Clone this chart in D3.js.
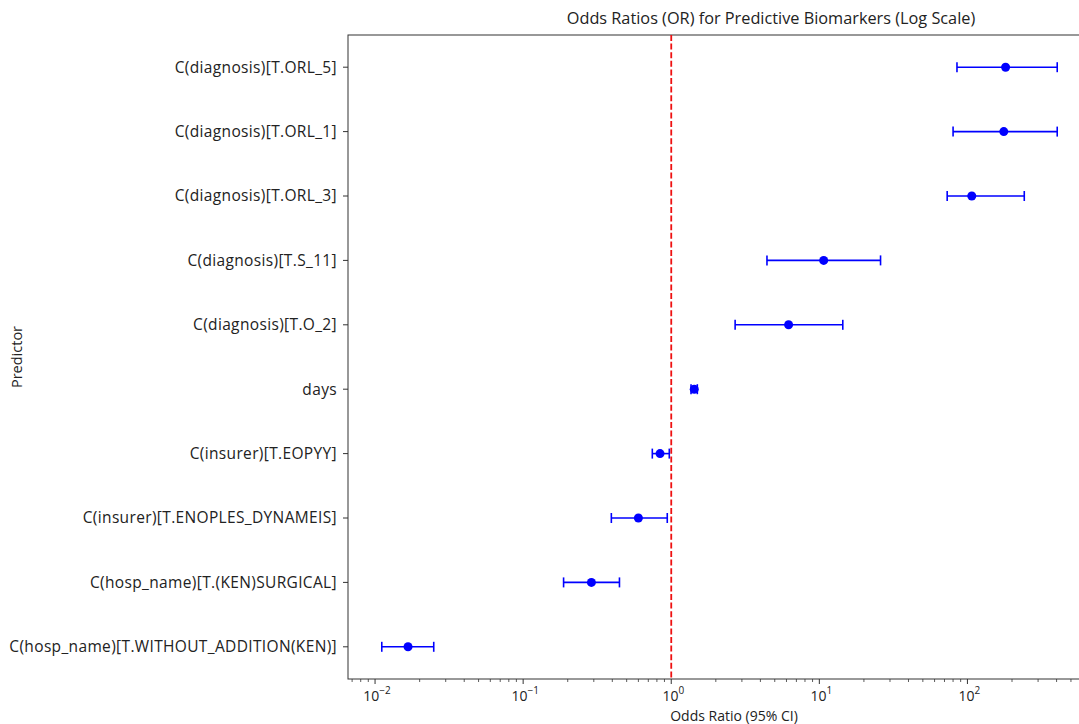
<!DOCTYPE html>
<html>
<head>
<meta charset="utf-8">
<script src="https://cdn.jsdelivr.net/npm/d3@7"></script>
<style>
  body { margin: 0; background: #fff; }
  text { font-family: "Open Sans", sans-serif; fill: #222; }
</style>
</head>
<body>
<svg id="chart" width="1079" height="724"></svg>
<script>
// predictors, top to bottom
const predictors = [
  "C(diagnosis)[T.ORL_5]",
  "C(diagnosis)[T.ORL_1]",
  "C(diagnosis)[T.ORL_3]",
  "C(diagnosis)[T.S_11]",
  "C(diagnosis)[T.O_2]",
  "days",
  "C(insurer)[T.EOPYY]",
  "C(insurer)[T.ENOPLES_DYNAMEIS]",
  "C(hosp_name)[T.(KEN)SURGICAL]",
  "C(hosp_name)[T.WITHOUT_ADDITION(KEN)]"
];
const oddsRatio = [181, 176, 107, 10.7, 6.2, 1.43, 0.84, 0.60, 0.289, 0.0167];
const ciLow     = [85, 80, 73, 4.43, 2.7, 1.36, 0.745, 0.394, 0.1875, 0.0111];
const ciHigh    = [404, 404, 242, 25.9, 14.4, 1.50, 0.97, 0.94, 0.447, 0.0249];
const xTicks = [0.01, 0.1, 1, 10, 100];
const tickExp = ["-2", "-1", "0", "1", "2"];

const rows = predictors.map((p, i) => ({name: p, or: oddsRatio[i], lo: ciLow[i], hi: ciHigh[i]}));

const svg = d3.select("#chart");
const margin = {top: 35, left: 348, right: 1091, bottom: 679};

// 5% padding in log space, like matplotlib
const lmin = Math.log10(d3.min(ciLow)), lmax = Math.log10(d3.max(ciHigh));
const pad = (lmax - lmin) * 0.05;
const x = d3.scaleLog()
  .domain([Math.pow(10, lmin - pad), Math.pow(10, lmax + pad)])
  .range([margin.left, margin.right]);

const y = d3.scalePoint()
  .domain(predictors)
  .range([margin.top, margin.bottom])
  .padding(0.5);

// frame
svg.append("rect")
  .attr("x", margin.left).attr("y", margin.top)
  .attr("width", margin.right - margin.left).attr("height", margin.bottom - margin.top)
  .attr("fill", "none").attr("stroke", "#333").attr("stroke-width", 1);

// x axis, major + minor ticks
const minorTicks = [];
for (let e = -3; e <= 3; e++) for (let k = 2; k <= 9; k++) {
  const v = k * Math.pow(10, e);
  if (v > x.domain()[0] && v < x.domain()[1]) minorTicks.push(v);
}
const gx = svg.append("g").attr("transform", `translate(0,${margin.bottom})`);
gx.selectAll("line.minor").data(minorTicks).join("line")
  .attr("class", "minor")
  .attr("x1", d => x(d)).attr("x2", d => x(d))
  .attr("y1", 0).attr("y2", 3)
  .attr("stroke", "#333").attr("stroke-width", 0.8);
gx.selectAll("line.major").data(xTicks).join("line")
  .attr("class", "major")
  .attr("x1", d => x(d)).attr("x2", d => x(d))
  .attr("y1", 0).attr("y2", 5)
  .attr("stroke", "#333").attr("stroke-width", 1);
const lbl = gx.selectAll("text.tick").data(xTicks).join("text")
  .attr("class", "tick")
  .attr("x", d => x(d) + 2).attr("y", 22)
  .attr("text-anchor", "middle")
  .attr("font-size", "14px");
lbl.append("tspan").text("10");
lbl.append("tspan").attr("dy", -7).attr("font-size", "10px").text((d, i) => tickExp[i].replace("-", "\u2212"));

svg.append("text")
  .attr("x", 734).attr("y", 721)
  .attr("text-anchor", "middle").attr("font-size", "14px")
  .text("Odds Ratio (95% CI)");

// y axis
const gy = svg.append("g");
gy.selectAll("line").data(predictors).join("line")
  .attr("x1", margin.left - 5).attr("x2", margin.left)
  .attr("y1", d => y(d)).attr("y2", d => y(d))
  .attr("stroke", "#333").attr("stroke-width", 1);
gy.selectAll("text").data(predictors).join("text")
  .attr("x", margin.left - 11).attr("y", d => y(d))
  .attr("dy", "0.35em")
  .attr("text-anchor", "end").attr("font-size", "15.5px")
  .attr("letter-spacing", "0.35px")
  .text(d => d);

svg.append("text")
  .attr("transform", `translate(22,${(margin.top + margin.bottom) / 2}) rotate(-90)`)
  .attr("text-anchor", "middle").attr("font-size", "14.5px")
  .text("Predictor");

// title
svg.append("text")
  .attr("x", 771).attr("y", 24)
  .attr("text-anchor", "middle").attr("font-size", "16.3px")
  .text("Odds Ratios (OR) for Predictive Biomarkers (Log Scale)");

// reference line at OR = 1
svg.append("line")
  .attr("x1", x(1)).attr("x2", x(1))
  .attr("y1", margin.top).attr("y2", margin.bottom)
  .attr("stroke", "#ee1111").attr("stroke-width", 1.8)
  .attr("stroke-dasharray", "6,2.6");

// error bars with caps
const g = svg.append("g").attr("stroke", "#0000ff").attr("stroke-width", 1.6);
const bars = g.selectAll("g").data(rows).join("g");
bars.append("line")
  .attr("x1", d => x(d.lo)).attr("x2", d => x(d.hi))
  .attr("y1", d => y(d.name)).attr("y2", d => y(d.name));
bars.append("line")
  .attr("x1", d => x(d.lo)).attr("x2", d => x(d.lo))
  .attr("y1", d => y(d.name) - 5).attr("y2", d => y(d.name) + 5);
bars.append("line")
  .attr("x1", d => x(d.hi)).attr("x2", d => x(d.hi))
  .attr("y1", d => y(d.name) - 5).attr("y2", d => y(d.name) + 5);
bars.append("circle")
  .attr("cx", d => x(d.or)).attr("cy", d => y(d.name))
  .attr("r", 4.5).attr("fill", "#0000ff").attr("stroke", "none");
</script>
</body>
</html>
